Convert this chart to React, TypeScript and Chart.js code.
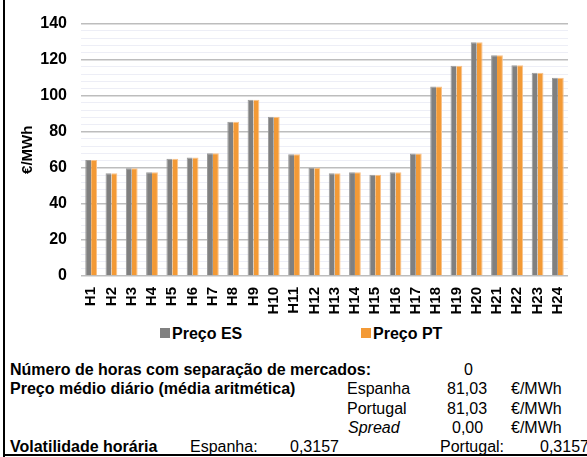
import React, { useEffect, useRef } from "react";
import { Chart, registerables } from "chart.js";

Chart.register(...registerables);

const hours: string[] = [
  "H1","H2","H3","H4","H5","H6","H7","H8","H9","H10","H11","H12",
  "H13","H14","H15","H16","H17","H18","H19","H20","H21","H22","H23","H24",
];
const precoES: number[] = [
  64.3, 57.0, 59.7, 57.5, 65.0, 65.7, 68.1, 85.5, 97.7, 88.4, 67.5, 60.1,
  57.0, 57.5, 56.1, 57.5, 67.9, 105.1, 116.6, 129.6, 122.5, 116.9, 112.7, 110.0,
];
const precoPT: number[] = [
  64.3, 57.0, 59.7, 57.5, 65.0, 65.7, 68.1, 85.5, 97.7, 88.4, 67.5, 60.1,
  57.0, 57.5, 56.1, 57.5, 67.9, 105.1, 116.6, 129.6, 122.5, 116.9, 112.7, 110.0,
];
const seriesNames: string[] = ["Preço ES", "Preço PT"];
const yMin = 0;
const yMax = 140;
const yMajorStep = 20;
const yMinorStep = 4;

const GRAY = "#808080";
const ORANGE = "#F39A36";
const FONT = "'Liberation Sans', Arial, sans-serif";

function BarChart() {
  const ref = useRef<HTMLCanvasElement | null>(null);
  useEffect(() => {
    if (!ref.current) return;
    const chart = new Chart(ref.current, {
      type: "bar",
      data: {
        labels: hours,
        datasets: [
          {
            label: seriesNames[0],
            data: precoES,
            backgroundColor: GRAY,
            borderColor: "#9a9a9a",
            borderWidth: { left: 1, top: 1, right: 0, bottom: 0 },
            borderSkipped: false,
            categoryPercentage: 0.58,
            barPercentage: 1.0,
          },
          {
            label: seriesNames[1],
            data: precoPT,
            backgroundColor: ORANGE,
            borderColor: "#F8C28A",
            borderWidth: { left: 0, top: 1, right: 1, bottom: 0 },
            borderSkipped: false,
            categoryPercentage: 0.58,
            barPercentage: 1.0,
          },
        ],
      },
      options: {
        animation: false,
        responsive: false,
        maintainAspectRatio: false,
        layout: { padding: { left: 0, right: 6, top: 19, bottom: 0 } },
        plugins: {
          legend: { display: false },
          tooltip: { enabled: false },
        },
        scales: {
          x: {
            grid: { display: false, drawTicks: false },
            border: { display: false },
            ticks: {
              color: "#000",
              font: { family: FONT, size: 15, weight: "bold" },
              minRotation: 90,
              maxRotation: 90,
              padding: 11,
              autoSkip: false,
            },
            afterFit: (scale: any) => {
              scale.height = 40;
            },
          },
          y: {
            min: yMin,
            max: yMax,
            grid: {
              drawTicks: false,
              color: (ctx: any) =>
                ctx.tick && ctx.tick.value % yMajorStep === 0 ? "#BDBDBD" : "#EDEEF6",
              lineWidth: (ctx: any) =>
                ctx.tick && ctx.tick.value % yMajorStep === 0 ? 1.5 : 1,
            },
            border: { display: false },
            ticks: {
              stepSize: yMinorStep,
              autoSkip: false,
              color: "#000",
              padding: 14,
              font: { family: FONT, size: 16, weight: "bold" },
              callback: (v: any) => (Number(v) % yMajorStep === 0 ? String(v) : ""),
            },
            title: {
              display: true,
              text: "€/MWh",
              color: "#000",
              font: { family: FONT, size: 15, weight: "bold" },
              padding: { top: 19, bottom: 0 },
            },
            afterFit: (scale: any) => {
              scale.width = 81;
            },
          },
        },
      },
    });
    return () => chart.destroy();
  }, []);
  return (
    <canvas
      ref={ref}
      width={587}
      height={316}
      style={{ position: "absolute", left: 0, top: 0, width: 587, height: 316 }}
    />
  );
}

const txt = (
  left: number,
  baseline: number,
  text: string,
  opts: { bold?: boolean; italic?: boolean } = {}
) => (
  <div
    key={`${left}-${baseline}-${text}`}
    style={{
      position: "absolute",
      left,
      top: baseline - 15,
      fontFamily: FONT,
      fontSize: 16,
      lineHeight: "19px",
      fontWeight: opts.bold ? "bold" : "normal",
      fontStyle: opts.italic ? "italic" : "normal",
      whiteSpace: "nowrap",
      color: "#000",
    }}
  >
    {text}
  </div>
);

export default function App() {
  const rows = [375, 394.2, 413.5, 432.8, 452];
  return (
    <div
      style={{
        position: "fixed",
        left: 0,
        top: 0,
        width: 587,
        height: 457,
        background: "#fff",
        overflow: "hidden",
      }}
    >
      <BarChart />
      {/* legend */}
      <div style={{ position: "absolute", left: 160, top: 328, width: 10, height: 10, background: GRAY }} />
      {txt(172, 339, seriesNames[0], { bold: true })}
      <div style={{ position: "absolute", left: 361, top: 328, width: 10, height: 10, background: ORANGE }} />
      {txt(373, 339, seriesNames[1], { bold: true })}
      {/* table */}
      {txt(10, rows[0], "Número de horas com separação de mercados:", { bold: true })}
      {txt(464, rows[0], "0")}
      {txt(10, rows[1], "Preço médio diário (média aritmética)", { bold: true })}
      {txt(347, rows[1], "Espanha")}
      {txt(447, rows[1], "81,03")}
      {txt(511, rows[1], "€/MWh")}
      {txt(347, rows[2], "Portugal")}
      {txt(447, rows[2], "81,03")}
      {txt(511, rows[2], "€/MWh")}
      {txt(348, rows[3], "Spread", { italic: true })}
      {txt(452, rows[3], "0,00")}
      {txt(511, rows[3], "€/MWh")}
      {txt(10, rows[4], "Volatilidade horária", { bold: true })}
      {txt(190, rows[4], "Espanha:")}
      {txt(290, rows[4], "0,3157")}
      {txt(440, rows[4], "Portugal:")}
      {txt(540, rows[4], "0,3157")}
      {/* borders */}
      <div style={{ position: "absolute", left: 3, top: 0, width: 2, height: 457, background: "#000" }} />
      <div style={{ position: "absolute", left: 3, top: 454, width: 584, height: 2, background: "#000" }} />
    </div>
  );
}
